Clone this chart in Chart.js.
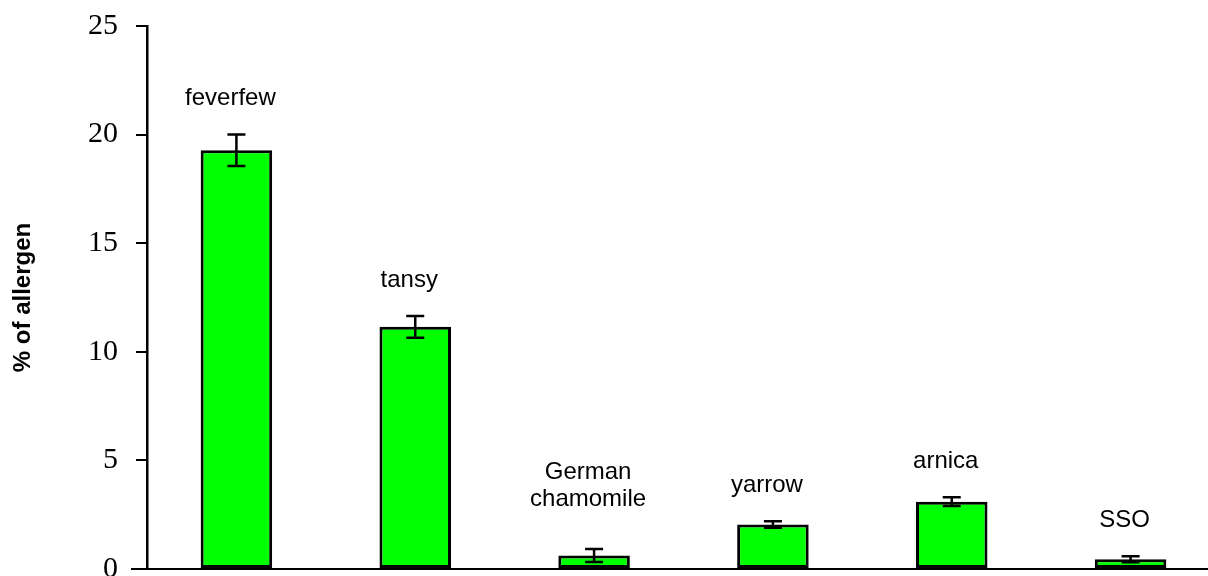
<!DOCTYPE html>
<html>
<head>
<meta charset="utf-8">
<script src="https://cdn.jsdelivr.net/npm/chart.js@4"></script>
<style>
    html, body { margin: 0; padding: 0; background: #fff; overflow: hidden; }
    #wrap { width: 1220px; height: 576px; }
</style>
</head>
<body>
<div id="wrap"><canvas id="myChart"></canvas></div>
<script>
/* ========== Dados =============== */

const categories = ['feverfew', 'tansy', 'German chamomile', 'yarrow', 'arnica', 'SSO'];
const labelLines = [['feverfew'], ['tansy'], ['German', 'chamomile'], ['yarrow'], ['arnica'], ['SSO']];
const values = [19.28, 11.15, 0.62, 2.05, 3.1, 0.45];
const errors = [0.72, 0.5, 0.3, 0.15, 0.2, 0.14];
const yTicks = [0, 5, 10, 15, 20, 25];

/* ========== Plugins =============== */

// barras de erro + rotulos em cima das barras
const errorBars = {
    id: 'errorBars',
    afterDatasetsDraw(chart) {
        const ctx = chart.ctx;
        const yScale = chart.scales.y;
        const area = chart.chartArea;
        const meta = chart.getDatasetMeta(0);
        ctx.save();
        ctx.strokeStyle = '#000';

        // eixo x um pouco para a esquerda do eixo y
        ctx.lineWidth = 2;
        ctx.beginPath();
        ctx.moveTo(area.left - 16, area.bottom);
        ctx.lineTo(area.left, area.bottom);
        ctx.stroke();

        ctx.lineWidth = 2.5;
        meta.data.forEach(function (bar, i) {
            const x = bar.x;
            const top = yScale.getPixelForValue(values[i] + errors[i]);
            const bottom = yScale.getPixelForValue(values[i] - errors[i]);
            ctx.beginPath();
            ctx.moveTo(x, top);
            ctx.lineTo(x, bottom);
            ctx.moveTo(x - 9, top);
            ctx.lineTo(x + 9, top);
            ctx.moveTo(x - 9, bottom);
            ctx.lineTo(x + 9, bottom);
            ctx.stroke();

            // rotulo
            ctx.fillStyle = '#000';
            ctx.font = '24px "Liberation Sans", Arial, sans-serif';
            ctx.textAlign = 'center';
            ctx.textBaseline = 'middle';
            const lines = labelLines[i];
            const base = top - 36 - (lines.length - 1) * 14;
            for (let k = 0; k < lines.length; k++) {
                const yy = base - (lines.length - 1 - k) * 27;
                ctx.fillText(lines[k], x - 6, yy);
            }
        });
        ctx.restore();
    }
};

/* ========== Grafico =============== */

const ctx = document.getElementById('myChart');

new Chart(ctx, {
    type: 'bar',
    data: {
        labels: categories,
        datasets: [{
            data: values,
            backgroundColor: '#00FF00',
            borderColor: '#000',
            borderWidth: 3,
            borderSkipped: false,
            categoryPercentage: 1,
            barPercentage: 0.4
        }]
    },
    options: {
        responsive: true,
        maintainAspectRatio: false,
        animation: false,
        layout: { padding: { top: 26, right: 0, bottom: 0, left: 0 } },
        plugins: {
            legend: { display: false },
            tooltip: { enabled: false }
        },
        scales: {
            x: {
                ticks: { display: false },
                grid: { display: false },
                border: { display: true, color: '#000', width: 2 },
                afterFit(scale) {
                    scale.height = 7;
                    scale.paddingLeft = 0;
                    scale.paddingRight = 0;
                }
            },
            y: {
                min: 0,
                max: 25,
                afterBuildTicks(scale) {
                    scale.ticks = yTicks.map(v => ({ value: v }));
                },
                afterFit(scale) {
                    scale.width = 147;
                    scale.paddingTop = 0;
                    scale.paddingBottom = 0;
                },
                ticks: {
                    color: '#000',
                    padding: 18,
                    font: { family: '"Liberation Serif", "Times New Roman", serif', size: 30 }
                },
                grid: {
                    drawOnChartArea: false,
                    drawTicks: true,
                    tickLength: 11,
                    color: '#000',
                    lineWidth: 2
                },
                border: { display: true, color: '#000', width: 2.5 },
                title: {
                    display: true,
                    text: '% of allergen',
                    color: '#000',
                    font: { family: '"Liberation Sans", Arial, sans-serif', size: 24, weight: 'bold' },
                    padding: { top: 9, bottom: 0 }
                }
            }
        }
    },
    plugins: [errorBars]
});
</script>
</body>
</html>
